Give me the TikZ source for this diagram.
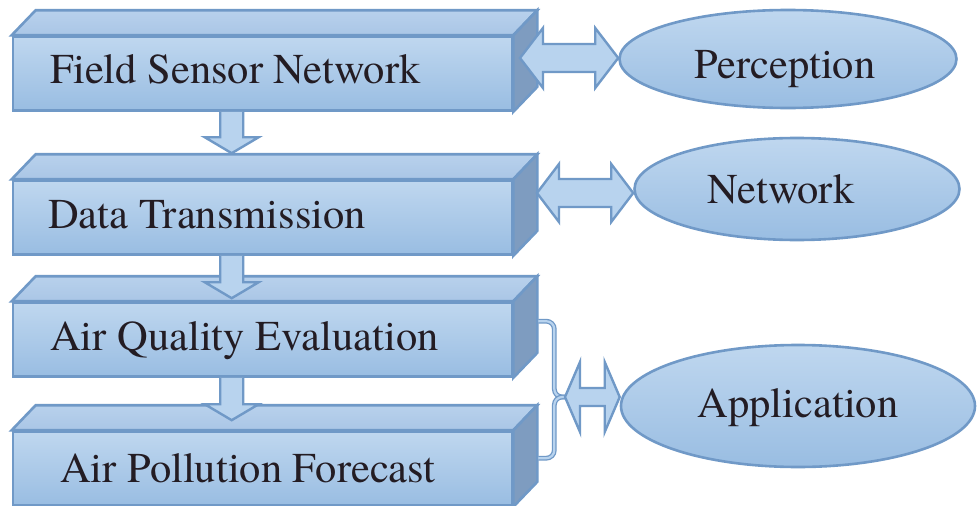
\documentclass[tikz,border=0pt]{standalone}
\usepackage{fontspec}
\setmainfont{TeX Gyre Termes}
\usetikzlibrary{calc,shapes.geometric}
\definecolor{bfillA}{RGB}{191,215,239}
\definecolor{bfillB}{RGB}{153,189,226}
\definecolor{topA}{RGB}{184,209,236}
\definecolor{topB}{RGB}{170,198,230}
\definecolor{sidec}{RGB}{126,156,192}
\definecolor{bline}{RGB}{112,153,199}
\definecolor{afill}{RGB}{184,211,238}
\definecolor{txtc}{RGB}{35,28,35}
\newcommand{\boxfaces}[1]{%
  \path[topface] (#1.north west) -- ++(24,-25) -- ($(#1.north east)+(24,-25)$) -- (#1.north east) -- cycle;
  \path[sideface] (#1.north east) -- ++(24,-25) -- ($(#1.south east)+(24,-25)$) -- (#1.south east) -- cycle;}
\newcommand{\downblock}[2]{%
  \path[blockarrow] let \p1=(#1), \p2=(#2) in
    (\x1-11.5pt,\y1) -- (\x1-11.5pt,\y2+16pt) -- (\x1-27pt,\y2+16pt) -- (\x1,\y2)
    -- (\x1+27pt,\y2+16pt) -- (\x1+11.5pt,\y2+16pt) -- (\x1+11.5pt,\y1);}
\newcommand{\dblblock}[5]{%
  \path[blockarrow] let \p1=(#1), \p2=(#2) in
    (\x1,\y1) -- (\x1+#5,\y1+#4) -- (\x1+#5,\y1+#3) -- (\x2-#5,\y1+#3) -- (\x2-#5,\y1+#4)
    -- (\x2,\y1) -- (\x2-#5,\y1-#4) -- (\x2-#5,\y1-#3) -- (\x1+#5,\y1-#3) -- (\x1+#5,\y1-#4) -- cycle;}
\tikzset{
  front/.style={draw=bline, line width=2.6pt, top color=bfillA, bottom color=bfillB,
    minimum width=499pt, minimum height=74pt, inner sep=0pt, line join=miter},
  topface/.style={draw=bline, line width=2.6pt, top color=topA, bottom color=topB, line join=miter},
  sideface/.style={draw=bline, line width=2.6pt, fill=sidec, line join=miter},
  blockarrow/.style={draw=bline, line width=2.4pt, fill=afill, line join=miter},
  ell/.style={ellipse, draw=bline, line width=2.6pt, top color=bfillA, bottom color=bfillB, inner sep=0pt},
  lbl/.style={inner sep=0pt, text=txtc, font=\fontsize{42.5}{50}\selectfont},
  bracket/.style={draw=bline, double=afill, line width=1.3pt, double distance=2.2pt, rounded corners=8pt},
}
\begin{document}
\begin{tikzpicture}[x=1pt, y=-1pt]
\fill[white] (0,0) rectangle (978,506);
\useasboundingbox (0,0) rectangle (978,506);

% boxes
\node[front] (b1) at (262.5,73.5) {};
\boxfaces{b1}
\node[front] (b2) at (262.5,217.5) {};
\boxfaces{b2}
\node[front] (b3) at (262.5,339.5) {};
\boxfaces{b3}
\node[front] (b4) at (262.5,468.5) {};
\boxfaces{b4}

\node[lbl, anchor=base west] (t1) at (50,83) {Field Sensor Network};
\node[lbl, anchor=base west] (t2) at (48,228) {Data Transmission};
\node[lbl, anchor=base west] (t3) at (50,350) {Air Quality Evaluation};
\node[lbl, anchor=base west] (t4) at (60,482) {Air Pollution Forecast};

% down arrows
\coordinate (d1s) at ($(b1.south west)+(220,0)$);
\coordinate (d1e) at ($(b2.north west)+(220,-26)$);
\coordinate (d2s) at ($(b2.south west)+(220,0)$);
\coordinate (d2e) at ($(b3.north west)+(220,-3)$);
\coordinate (d3s) at ($(b3.south west)+(220,0)$);
\coordinate (d3e) at ($(b4.north west)+(220,-10)$);
\downblock{d1s}{d1e}
\downblock{d2s}{d2e}
\downblock{d3s}{d3e}

% ellipses
\node[ell, minimum width=337pt, minimum height=98pt] (e1) at (788,59) {};
\node[ell, minimum width=325pt, minimum height=102pt] (e2) at (797,189) {};
\node[ell, minimum width=354pt, minimum height=122pt] (e3) at (798,406) {};

% double arrows
\coordinate (a1L) at (520,58);
\coordinate (a2L) at (537,193);
\coordinate (a3L) at (565,397);
\dblblock{a1L}{e1.west}{14pt}{30pt}{23pt}
\dblblock{a2L}{e2.west}{14pt}{29pt}{22pt}

% bracket joining boxes 3 and 4
\coordinate (br3) at ($(b3.north east)+(25,20)$);
\coordinate (br4) at ($(b4.north east)+(25,28)$);
\draw[bracket] (br3) -- ++(16,0) |- (a3L);
\draw[bracket] (br4) -- ++(16,0) |- (a3L);
\dblblock{a3L}{e3.west}{9pt}{35pt}{15pt}

\node[lbl, anchor=base] (te1) at (785,78) {Perception};
\node[lbl, anchor=base] (te2) at (781,203) {Network};
\node[lbl, anchor=base] (te3) at (798,417) {Application};
\end{tikzpicture}
\end{document}
